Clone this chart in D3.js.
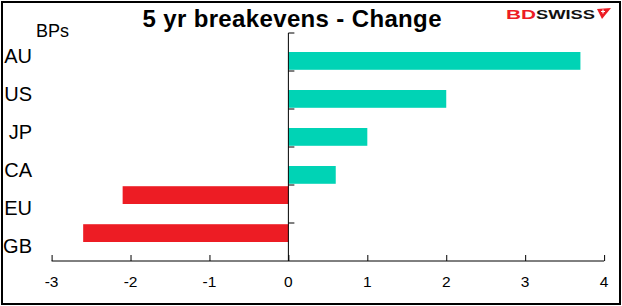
<!DOCTYPE html>
<html><head><meta charset="utf-8">
<script src="https://cdn.jsdelivr.net/npm/d3@7"></script>
<style>body{margin:0;background:#fff}svg{display:block}text{font-family:"Liberation Sans",Arial,sans-serif}</style>
</head><body>
<script>
const categories = ["AU","US","JP","CA","EU","GB"];
const positiveValues = [3.7, 2.0, 1.0, 0.6, null, null];
const negativeValues = [null, null, null, null, -2.1, -2.6];
const xTicks = [-3,-2,-1,0,1,2,3,4];
const title = "5 yr breakevens - Change";
const unitLabel = "BPs";

const W = 622, H = 306;
const svg = d3.select("body").append("svg").attr("width", W).attr("height", H);
svg.append("rect").attr("x",2).attr("y",2).attr("width",618).attr("height",302)
  .attr("fill","#fff").attr("stroke","#000").attr("stroke-width",2);

const x = d3.scaleLinear().domain([-3,4]).range([51.6,604.1]);
const y = d3.scaleBand().domain(categories).range([33,261]).paddingInner(0).paddingOuter(0);
const sub = d3.scaleBand().domain(["neg","pos"]).range([0,y.bandwidth()]).paddingInner(0).paddingOuter(0.068);

const series = [
  {key:"neg", values:negativeValues, color:"#ED1C24"},
  {key:"pos", values:positiveValues, color:"#00D3B5"}
];
series.forEach(s => {
  svg.append("g").selectAll("rect")
    .data(categories.map((c,i)=>({c, v:s.values[i]})).filter(d=>d.v!=null))
    .join("rect")
    .attr("x", d => x(Math.min(0,d.v)))
    .attr("width", d => Math.abs(x(d.v)-x(0)))
    .attr("y", d => y(d.c) + sub(s.key))
    .attr("height", sub.bandwidth())
    .attr("fill", s.color);
});

// x axis
const xAxis = svg.append("g").attr("transform","translate(0,261)")
  .call(d3.axisTop(x).tickValues(xTicks).tickSize(6).tickFormat(""));
xAxis.select(".domain").attr("d", `M${x(-3)},0H${x(4)}`).attr("stroke","#000");
xAxis.selectAll("line").attr("stroke","#000");
svg.append("g").selectAll("text").data(xTicks).join("text")
  .attr("x", d=>x(d)).attr("y", 287).attr("text-anchor","middle")
  .attr("font-size", 15.5).attr("fill","#000").text(d=>d);

// y axis at zero
const yAxis = svg.append("g").attr("transform",`translate(${x(0)},0)`);
yAxis.append("line").attr("x1",0).attr("x2",0).attr("y1",33).attr("y2",261).attr("stroke","#000");
const bounds = categories.map(c=>y(c));
yAxis.selectAll("line.t").data(bounds).join("line").attr("class","t")
  .attr("x1",0).attr("x2",6).attr("y1",d=>d).attr("y2",d=>d).attr("stroke","#000");

// category labels
svg.append("g").selectAll("text").data(categories).join("text")
  .attr("x", 32).attr("y", c=>y(c)+y.bandwidth()/2+11).attr("text-anchor","end")
  .attr("font-size", 20).attr("fill","#000")
  .text(c=>c);

svg.append("text").attr("x",36).attr("y",37).attr("font-size",18).text(unitLabel);
svg.append("text").attr("x",142.5).attr("y",26.5)
  .attr("font-size",24).attr("font-weight","bold")
  .attr("textLength",299).attr("lengthAdjust","spacing").text(title);

// logo
const logo = svg.append("g");
logo.append("text").attr("x",506).attr("y",19).attr("font-size",13.5).attr("font-weight","bold")
  .attr("textLength",30).attr("lengthAdjust","spacingAndGlyphs").attr("fill","#ED1C24").text("BD");
logo.append("text").attr("x",536).attr("y",19).attr("font-size",13.5).attr("font-weight","bold")
  .attr("textLength",59).attr("lengthAdjust","spacingAndGlyphs").attr("fill","#111").text("SWISS");
logo.append("path").attr("d","M597,9 L611,8 L602,19 L600,15 Z").attr("fill","#ED1C24");
logo.append("path").attr("d","M601,11.5 h4 M603,9.5 v4").attr("stroke","#fff").attr("stroke-width",1.2);
</script>
</body></html>
